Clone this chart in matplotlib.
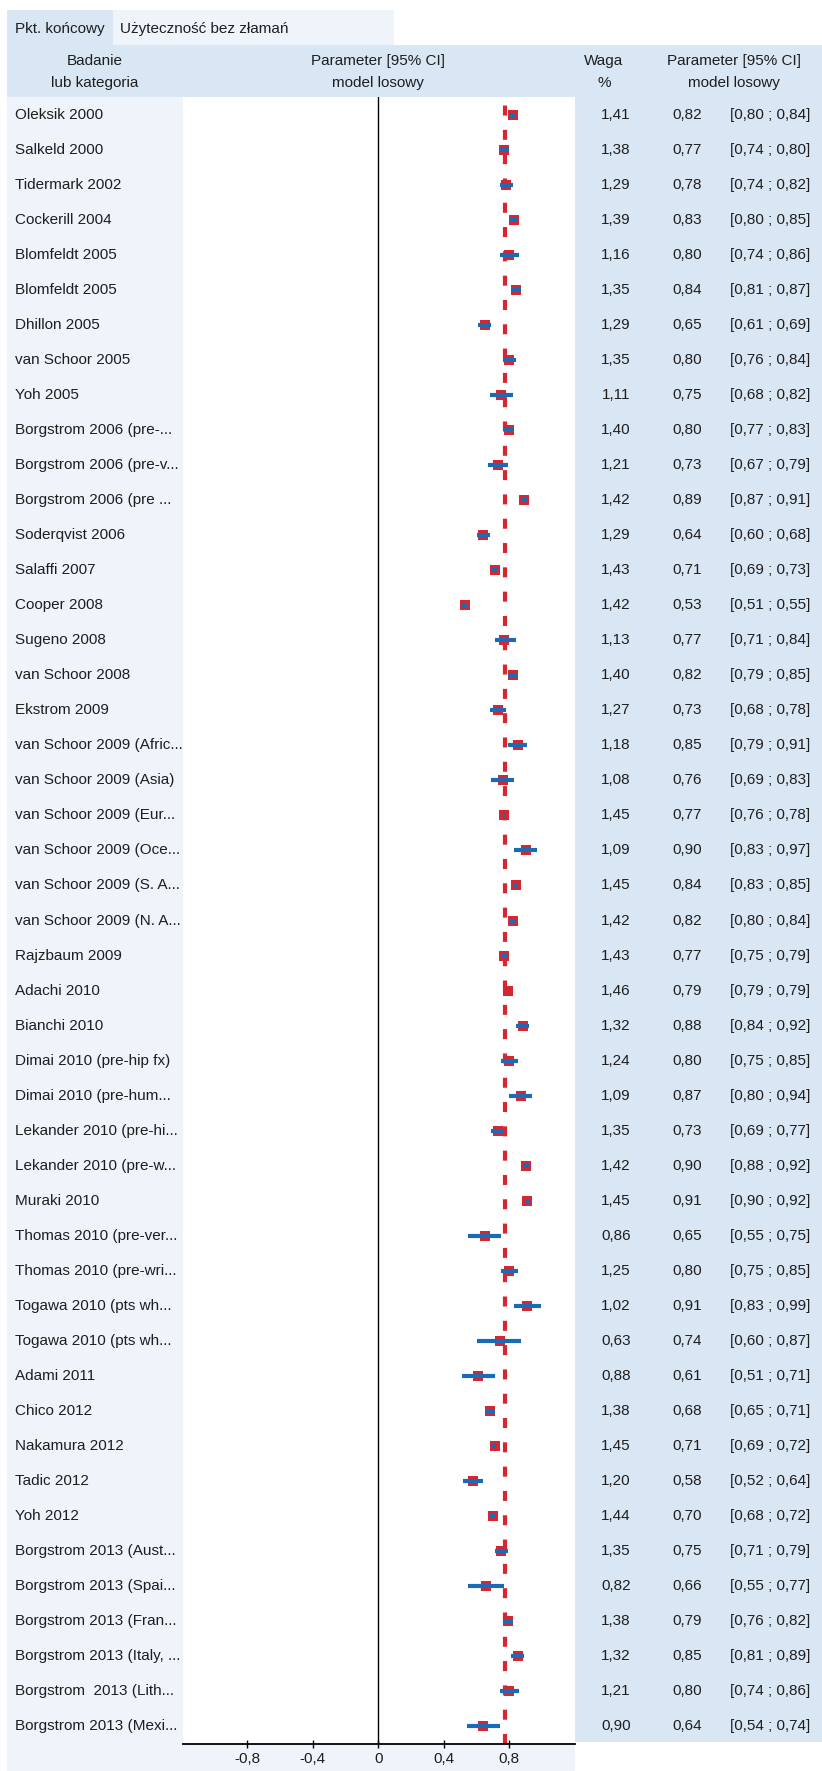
import matplotlib.pyplot as plt
from matplotlib.patches import Rectangle
import matplotlib.transforms as mtransforms

plt.rcParams['font.family'] = ['Liberation Sans', 'DejaVu Sans']
plt.rcParams['lines.scale_dashes'] = False

studies = ["Oleksik 2000", "Salkeld 2000", "Tidermark 2002", "Cockerill 2004",
           "Blomfeldt 2005", "Blomfeldt 2005", "Dhillon 2005", "van Schoor 2005",
           "Yoh 2005", "Borgstrom 2006 (pre-...", "Borgstrom 2006 (pre-v...",
           "Borgstrom 2006 (pre ...", "Soderqvist 2006", "Salaffi 2007", "Cooper 2008",
           "Sugeno 2008", "van Schoor 2008", "Ekstrom 2009", "van Schoor 2009 (Afric...",
           "van Schoor 2009 (Asia)", "van Schoor 2009 (Eur...", "van Schoor 2009 (Oce...",
           "van Schoor 2009 (S. A...", "van Schoor 2009 (N. A...", "Rajzbaum 2009",
           "Adachi 2010", "Bianchi 2010", "Dimai 2010 (pre-hip fx)", "Dimai 2010 (pre-hum...",
           "Lekander 2010 (pre-hi...", "Lekander 2010 (pre-w...", "Muraki 2010",
           "Thomas 2010 (pre-ver...", "Thomas 2010 (pre-wri...", "Togawa 2010 (pts wh...",
           "Togawa 2010 (pts wh...", "Adami 2011", "Chico 2012", "Nakamura 2012",
           "Tadic 2012", "Yoh 2012", "Borgstrom 2013 (Aust...", "Borgstrom 2013 (Spai...",
           "Borgstrom 2013 (Fran...", "Borgstrom 2013 (Italy, ...", "Borgstrom  2013 (Lith...",
           "Borgstrom 2013 (Mexi..."]
weights = [1.41, 1.38, 1.29, 1.39, 1.16, 1.35, 1.29, 1.35, 1.11, 1.40, 1.21, 1.42,
           1.29, 1.43, 1.42, 1.13, 1.40, 1.27, 1.18, 1.08, 1.45, 1.09, 1.45, 1.42,
           1.43, 1.46, 1.32, 1.24, 1.09, 1.35, 1.42, 1.45, 0.86, 1.25, 1.02, 0.63,
           0.88, 1.38, 1.45, 1.20, 1.44, 1.35, 0.82, 1.38, 1.32, 1.21, 0.90]
est = [0.82, 0.77, 0.78, 0.83, 0.80, 0.84, 0.65, 0.80, 0.75, 0.80, 0.73, 0.89,
       0.64, 0.71, 0.53, 0.77, 0.82, 0.73, 0.85, 0.76, 0.77, 0.90, 0.84, 0.82,
       0.77, 0.79, 0.88, 0.80, 0.87, 0.73, 0.90, 0.91, 0.65, 0.80, 0.91, 0.74,
       0.61, 0.68, 0.71, 0.58, 0.70, 0.75, 0.66, 0.79, 0.85, 0.80, 0.64]
lower = [0.80, 0.74, 0.74, 0.80, 0.74, 0.81, 0.61, 0.76, 0.68, 0.77, 0.67, 0.87,
         0.60, 0.69, 0.51, 0.71, 0.79, 0.68, 0.79, 0.69, 0.76, 0.83, 0.83, 0.80,
         0.75, 0.79, 0.84, 0.75, 0.80, 0.69, 0.88, 0.90, 0.55, 0.75, 0.83, 0.60,
         0.51, 0.65, 0.69, 0.52, 0.68, 0.71, 0.55, 0.76, 0.81, 0.74, 0.54]
upper = [0.84, 0.80, 0.82, 0.85, 0.86, 0.87, 0.69, 0.84, 0.82, 0.83, 0.79, 0.91,
         0.68, 0.73, 0.55, 0.84, 0.85, 0.78, 0.91, 0.83, 0.78, 0.97, 0.85, 0.84,
         0.79, 0.79, 0.92, 0.85, 0.94, 0.77, 0.92, 0.92, 0.75, 0.85, 0.99, 0.87,
         0.71, 0.71, 0.72, 0.64, 0.72, 0.79, 0.77, 0.82, 0.89, 0.86, 0.74]
pooled = 0.775
xticks = [-0.8, -0.4, 0, 0.4, 0.8]
xticklabels = ["-0,8", "-0,4", "0", "0,4", "0,8"]

W, H = 822, 1771
HEAD = '#d9e6f3'
LIGHT = '#eef4fa'
RED = '#d7262f'
BLUE = '#1a6bb5'
TXT = '#1e1e1e'
FS = 11

fig = plt.figure(figsize=(W / 100, H / 100), dpi=100)


def px(x, y):
    return x / W, 1 - y / H


def box(x0, y0, x1, y1, color):
    fig.patches.append(Rectangle((x0 / W, 1 - y1 / H), (x1 - x0) / W, (y1 - y0) / H,
                                 transform=fig.transFigure, color=color, zorder=-5, lw=0))


# background panels
box(7, 10, 113, 45, HEAD)
box(113, 10, 394, 45, LIGHT)
box(7, 45, 822, 97, HEAD)
box(7, 97, 183, H, LIGHT)
box(183, 1744, 575, H, LIGHT)
box(575, 97, 822, 1742, HEAD)

fig.text(*px(15, 29), "Pkt. końcowy", fontsize=FS, color=TXT, va='center')
fig.text(*px(120, 29), "Użyteczność bez złamań", fontsize=FS, color=TXT, va='center')

for xc, l1, l2 in [(95, "Badanie", "lub kategoria"),
                   (378, "Parameter [95% CI]", "model losowy"),
                   (604, "Waga", "%"),
                   (734, "Parameter [95% CI]", "model losowy")]:
    fig.text(*px(xc, 61), l1, fontsize=FS, color=TXT, ha='center', va='center')
    fig.text(*px(xc, 83), l2, fontsize=FS, color=TXT, ha='center', va='center')

ax = fig.add_axes([183 / W, (H - 1744) / H, (575 - 183) / W, (1744 - 97) / H])
ax.set_facecolor('white')
n = len(studies)
rows = list(range(n))
ax.set_ylim(n - 0.5, -0.5)
ax.set_xlim(-1.19, 1.2)

ax.axvline(0, color='black', lw=1.0, zorder=1)
ax.axvline(pooled, color=RED, lw=3.0, dashes=(7.2, 10.3), zorder=2)
ax.plot(est, rows, 's', color=RED, markersize=6.5, markeredgewidth=0, zorder=3)
ax.hlines(rows, lower, upper, color=BLUE, lw=3.0, zorder=4)

for s in ['top', 'left', 'right']:
    ax.spines[s].set_visible(False)
ax.spines['bottom'].set_linewidth(1.3)
ax.set_yticks([])
ax.set_xticks(xticks)
ax.set_xticklabels(xticklabels, fontsize=FS, color=TXT)
ax.tick_params(axis='x', direction='inout', length=6, width=1.0, pad=3)

# row texts: x in figure pixels, y in data rows
tr = mtransforms.blended_transform_factory(fig.transFigure, ax.transData)
fmt = lambda v: f"{v:.2f}".replace('.', ',')
for i in rows:
    fig.text(15 / W, i, studies[i], transform=tr, fontsize=FS, color=TXT, va='center')
    fig.text(616 / W, i, fmt(weights[i]), transform=tr, fontsize=FS, color=TXT,
             ha='center', va='center')
    fig.text(687 / W, i, fmt(est[i]), transform=tr, fontsize=FS, color=TXT,
             ha='center', va='center')
    fig.text(770 / W, i, "[" + fmt(lower[i]) + " ; " + fmt(upper[i]) + "]", transform=tr,
             fontsize=FS, color=TXT, ha='center', va='center')

fig.savefig("out.png", dpi=100)
